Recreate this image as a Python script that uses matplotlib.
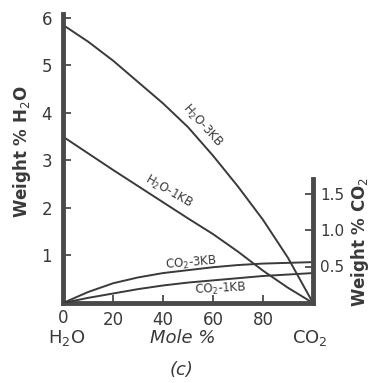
import numpy as np
import matplotlib
matplotlib.use("Agg")
import matplotlib.pyplot as plt

# mole % CO2 (x) and weight % of each species
mole_pct = [0, 10, 20, 30, 40, 50, 60, 70, 80, 90, 100]
h2o_3kb = [5.85, 5.5, 5.1, 4.65, 4.2, 3.7, 3.1, 2.45, 1.75, 0.95, 0.0]
h2o_1kb = [3.5, 3.15, 2.8, 2.46, 2.12, 1.78, 1.45, 1.08, 0.68, 0.32, 0.0]
co2_3kb = [0.0, 0.15, 0.27, 0.35, 0.41, 0.45, 0.49, 0.52, 0.54, 0.55, 0.56]
co2_1kb = [0.0, 0.07, 0.13, 0.19, 0.24, 0.28, 0.31, 0.34, 0.37, 0.39, 0.41]

left_ticks = [1, 2, 3, 4, 5, 6]
right_ticks = [0.5, 1.0, 1.5]
right_labels = ["0.5", "1.0", "1.5"]
x_ticks = [20, 40, 60, 80]

W, H = 372, 383
ink = "#3a3a3a"
spine_c = "#4a4a4a"

fig = plt.figure(figsize=(W / 100, H / 100), dpi=100)
ax = fig.add_axes([63 / W, 1 - 303 / H, 250 / W, 289 / H])
ax.set_xlim(0, 100)
ax.set_ylim(0, 6.08)

ax.plot(mole_pct, h2o_3kb, color=ink, lw=1.4)
ax.plot(mole_pct, h2o_1kb, color=ink, lw=1.4)

ax2 = ax.twinx()
ax2.set_ylim(0, 289 / 73)
ax2.plot(mole_pct, co2_3kb, color=ink, lw=1.4)
ax2.plot(mole_pct, co2_1kb, color=ink, lw=1.4)

for a in (ax, ax2):
    a.spines["top"].set_visible(False)
    for s in a.spines.values():
        s.set_linewidth(3.5)
        s.set_color(spine_c)
ax.spines["right"].set_visible(False)
ax2.spines["left"].set_visible(False)
ax2.spines["bottom"].set_visible(False)
ax2.spines["right"].set_bounds(0, 1.7)

ax.set_yticks(left_ticks)
ax.set_xticks(x_ticks)
ax.tick_params(direction="in", length=6, width=1.3, color=spine_c,
               labelsize=12, colors=ink)
ax.tick_params(axis="y", pad=8)
ax.tick_params(axis="x", pad=6)
ax2.set_yticks(right_ticks)
ax2.set_yticklabels(right_labels)
ax2.tick_params(direction="in", length=6, width=1.3, color=spine_c,
                labelsize=11, colors=ink, pad=5)

# text placed in pixel positions of the figure
def put(x, y, s, **kw):
    fig.text(x / W, 1 - y / H, s, ha="center", va="center", color=ink, **kw)

put(63, 318, "0", fontsize=12)
put(22, 152, "Weight % H$_2$O", fontsize=12, fontweight="bold", rotation=90)
put(360, 242, "Weight % CO$_2$", fontsize=12, fontweight="bold", rotation=90)
put(67, 338, "H$_2$O", fontsize=13)
put(183, 338, "Mole %", fontsize=13, fontstyle="italic")
put(310, 338, "CO$_2$", fontsize=13)
put(182, 370, "(c)", fontsize=13, fontstyle="italic")

put(202, 125, "H$_2$O-3KB", fontsize=8.5, rotation=-48)
put(168, 192, "H$_2$O-1KB", fontsize=8.5, rotation=-30)
put(191, 263, "CO$_2$-3KB", fontsize=8.5, rotation=5)
put(220, 289, "CO$_2$-1KB", fontsize=8.5, rotation=3)

fig.savefig("out.png", dpi=100)
